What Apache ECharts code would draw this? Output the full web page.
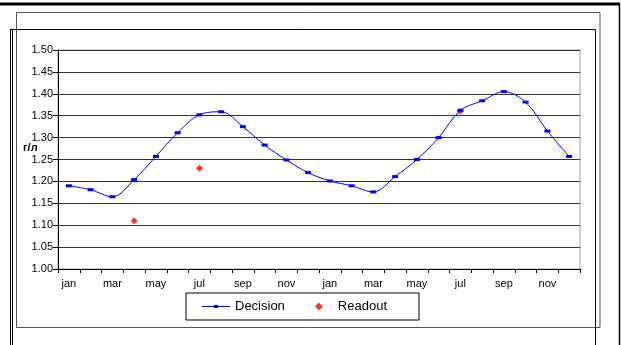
<!DOCTYPE html>
<html>
<head>
<meta charset="utf-8">
<script src="https://cdn.jsdelivr.net/npm/echarts@6/dist/echarts.min.js"></script>
<style>html,body{margin:0;padding:0;background:#fff;}#c{width:621px;height:345px;}</style>
</head>
<body>
<div id="c"></div>
<script>
var categories = ['jan','feb','mar','apr','may','jun','jul','aug','sep','oct','nov','dec',
                  'jan','feb','mar','apr','may','jun','jul','aug','sep','oct','nov','dec'];
var decision = [1.190, 1.181, 1.165, 1.204, 1.257, 1.311, 1.352, 1.359, 1.325, 1.283, 1.249, 1.220,
                1.201, 1.190, 1.176, 1.211, 1.250, 1.300, 1.362, 1.384, 1.405, 1.381, 1.315, 1.257];
var readout = [null, null, null, 1.11, null, null, 1.23, null, null, null, null, null,
               null, null, null, null, null, null, 1.36, null, null, null, null, null];
var yUnit = 'г/л';

var chart = echarts.init(document.getElementById('c'), null, {renderer: 'canvas'});
var font = 'Liberation Sans, Arial, sans-serif';
var diamondIcon = 'path://M0,0L0,0M28,8L28,8M14,0L18,4L14,8L10,4Z';
var lineIcon = 'path://M0,0L0,0M28,8L28,8M0,3.5L28,3.5L28,4.5L0,4.5ZM12,2.5L16,2.5L16,5.5L12,5.5Z';
chart.setOption({
  animation: false,
  backgroundColor: '#fff',
  textStyle: {fontFamily: font},
  grid: {left: 58, right: 41, top: 50, bottom: 76, show: true, borderColor: '#a0a0a0', borderWidth: 1},
  xAxis: {
    type: 'category', data: categories, boundaryGap: true,
    axisLine: {lineStyle: {color: '#000', width: 1}},
    axisTick: {show: true, interval: 0, length: 4, lineStyle: {color: '#000'}},
    axisLabel: {interval: 1, color: '#000', fontSize: 11, fontFamily: font, margin: 9}
  },
  yAxis: {
    type: 'value', min: 1.0, max: 1.5, interval: 0.05,
    axisLine: {show: true, lineStyle: {color: '#000', width: 1}},
    axisTick: {show: true, length: 5, lineStyle: {color: '#000'}},
    axisLabel: {color: '#000', fontSize: 11, fontFamily: font, margin: 5,
      formatter: function (v) { return v.toFixed(2); }},
    splitLine: {show: true, lineStyle: {color: '#333', width: 1}}
  },
  legend: {
    data: [{name: 'Decision', icon: lineIcon}, {name: 'Readout', icon: diamondIcon}],
    left: 186, top: 293,
    padding: [7, 32, 7, 16],
    itemWidth: 28, itemHeight: 8, itemGap: 20,
    borderColor: '#000', borderWidth: 1,
    textStyle: {fontSize: 13, color: '#000', fontFamily: font}
  },
  series: [
    {
      name: 'Decision', type: 'line', data: decision, smooth: 0.35,
      symbol: 'rect', symbolSize: [6, 3], showAllSymbol: true,
      lineStyle: {color: '#0000ff', width: 1},
      itemStyle: {color: '#0000ff'}
    },
    {
      name: 'Readout', type: 'scatter', data: readout,
      symbol: 'diamond', symbolSize: 7,
      itemStyle: {color: '#ff0000'}
    }
  ],
  graphic: [
    {type: 'line', silent: true, shape: {x1: 0, y1: 4, x2: 620, y2: 4}, style: {stroke: '#000', lineWidth: 3}},
    {type: 'line', silent: true, shape: {x1: 619.5, y1: 4, x2: 619.5, y2: 345}, style: {stroke: '#000', lineWidth: 1.5}},
    {type: 'rect', silent: true, shape: {x: 16.5, y: 12.5, width: 583.5, height: 315}, style: {fill: 'none', stroke: '#555', lineWidth: 1}},
    {type: 'line', silent: true, shape: {x1: 10, y1: 29.5, x2: 595.5, y2: 29.5}, style: {stroke: '#000', lineWidth: 1}},
    {type: 'line', silent: true, shape: {x1: 10.5, y1: 29.5, x2: 10.5, y2: 345}, style: {stroke: '#000', lineWidth: 1}},
    {type: 'line', silent: true, shape: {x1: 12.5, y1: 29.5, x2: 12.5, y2: 345}, style: {stroke: '#000', lineWidth: 1}},
    {type: 'line', silent: true, shape: {x1: 595.5, y1: 29.5, x2: 595.5, y2: 345}, style: {stroke: '#000', lineWidth: 1}},
    {type: 'text', silent: true, left: 23, top: 142, style: {text: yUnit, fill: '#000', font: 'bold 11px ' + font}}
  ]
});
</script>
</body>
</html>
